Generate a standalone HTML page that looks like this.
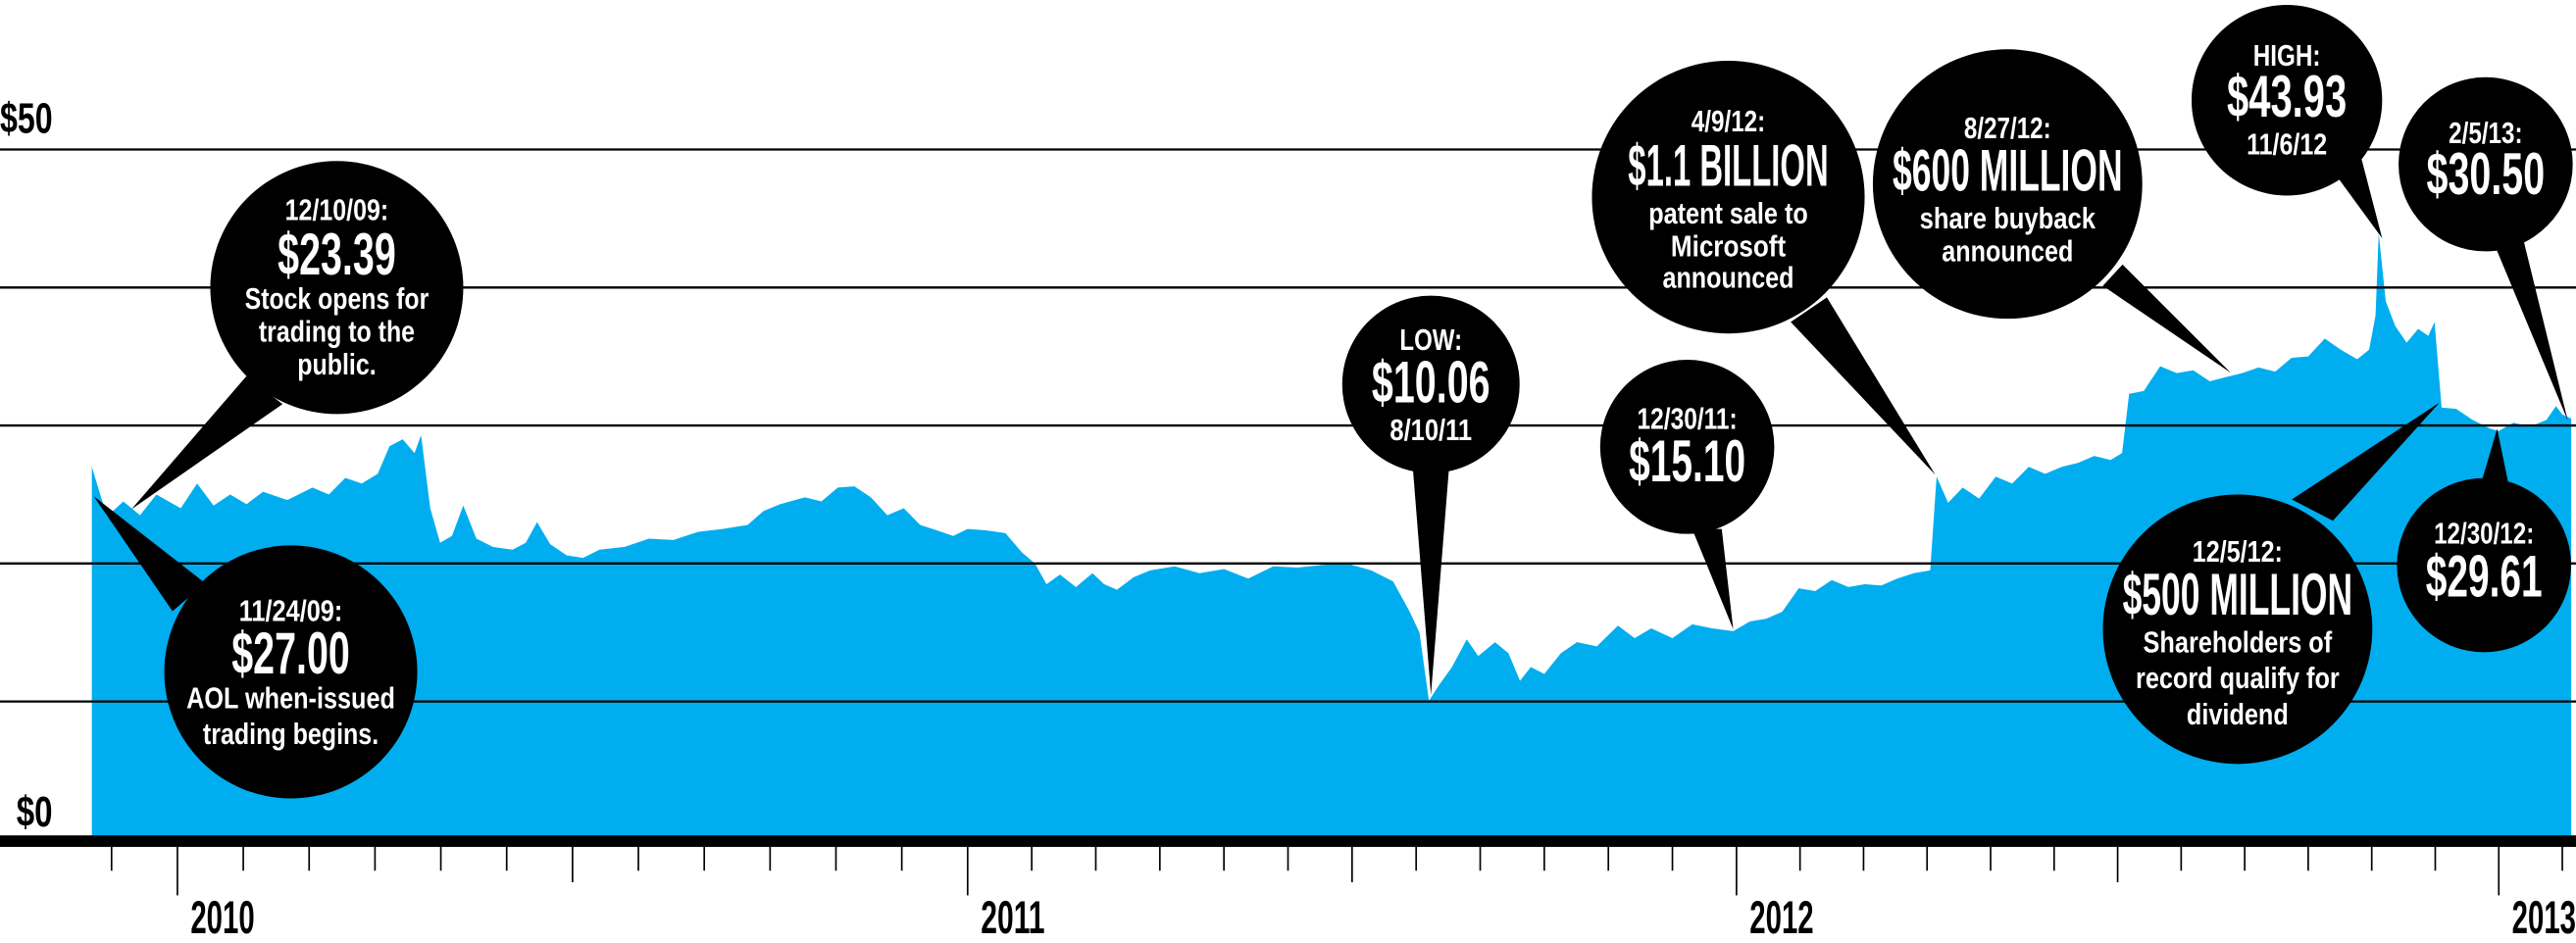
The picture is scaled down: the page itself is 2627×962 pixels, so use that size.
<!DOCTYPE html>
<html><head><meta charset="utf-8"><style>
html,body{margin:0;padding:0;background:#fff;}
svg{display:block;}
text{font-family:"Liberation Sans Narrow","Liberation Sans",sans-serif;font-weight:bold;}
.w{fill:#fff;}
</style></head><body>
<svg id="chart" xmlns="http://www.w3.org/2000/svg" width="2627" height="962" viewBox="0 0 1568 574" preserveAspectRatio="none">
<g id="grid"></g>
<path id="area" fill="#00aeef"></path>
<g id="gridTop"></g>
<rect x="0" y="508.5" width="1568" height="7" fill="#000"/>
<g id="ticks"></g>
<text x="0" y="81" font-size="26" textLength="32" lengthAdjust="spacingAndGlyphs" font-weight="normal">$50</text>
<text x="10" y="503" font-size="26" textLength="22" lengthAdjust="spacingAndGlyphs" font-weight="normal">$0</text>
<g id="bubbles"></g>
</svg>
<script>
// months since Jan 2010
const months = [-1.3,-1.07,-0.82,-0.57,-0.32,0.05,0.3,0.55,0.8,1.05,1.3,1.67,2.05,2.3,2.55,2.8,3.04,3.22,3.42,3.6,3.7,3.84,3.99,4.17,4.34,4.54,4.79,5.09,5.29,5.46,5.66,5.91,6.16,6.41,6.79,7.16,7.53,7.91,8.28,8.66,8.9,9.15,9.53,9.78,10.03,10.28,10.53,10.78,11.03,11.28,11.53,11.78,12,12.28,12.59,12.85,13.05,13.23,13.44,13.69,13.95,14.13,14.33,14.59,14.85,15.23,15.62,16,16.38,16.77,17.15,17.54,17.92,18.3,18.64,18.9,19.05,19.2,19.36,19.56,19.79,19.97,20.23,20.44,20.62,20.79,21,21.26,21.51,21.82,22.15,22.41,22.67,23,23.31,23.62,23.95,24.21,24.47,24.72,24.98,25.24,25.5,25.76,26.02,26.28,26.53,26.79,27.05,27.15,27.33,27.56,27.82,28.08,28.34,28.6,28.86,29.12,29.38,29.63,29.89,30.07,30.18,30.41,30.67,30.93,31.19,31.45,31.7,31.96,32.22,32.48,32.74,33,33.26,33.51,33.77,33.96,34.06,34.11,34.22,34.37,34.55,34.73,34.89,34.99,35.1,35.33,35.59,35.85,36,36.23,36.49,36.75,36.9,37,37.14];
const prices = [27.0,23.4,24.5,23.5,25,24,25.8,24.2,25,24.3,25.2,24.6,25.5,25,26.2,25.8,26.5,28.5,29,28,29.3,24,21.5,22,24.2,21.8,21.2,21,21.5,23,21.4,20.6,20.4,21,21.2,21.8,21.7,22.3,22.5,22.8,23.8,24.3,24.8,24.5,25.5,25.6,24.8,23.5,24,22.8,22.4,22,22.5,22.4,22.2,20.8,20,18.5,19.2,18.3,19.3,18.5,18.1,19,19.5,19.8,19.3,19.6,18.9,19.8,19.7,19.9,20,19.5,18.7,16.5,15,10.06,11.2,12.5,14.5,13.3,14.3,13.5,11.5,12.5,12,13.5,14.3,14,15.5,14.6,15.3,14.6,15.6,15.3,15.1,15.8,16,16.5,18.2,18,18.8,18.3,18.5,18.4,18.9,19.3,19.5,26.3,24.4,25.5,24.7,26.3,25.8,27,26.5,27,27.3,27.8,27.5,28,32.3,32.5,34.3,33.8,34,33.2,33.5,33.8,34.2,33.9,34.9,35,36.3,35.5,34.8,35.5,38,43.93,39,37.2,36,37,36.5,37.5,31.3,31.2,30.4,29.8,29.61,30.2,29.9,30.4,31.4,30.8,30.5];
const yearLabels = ["2010","2011","2012","2013"];
const gridValues = [10,20,30,40,50];

const yearPx = [108,589,1057,1521,1985];
function xScale(m){
  let k = Math.floor(m/12);
  if(k<0) k=0; if(k>3) k=3;
  const a=yearPx[k], b=yearPx[k+1];
  return a + (m - k*12)/12*(b-a);
}
function yScale(p){ return 511 - p*8.4; }
const NS="http://www.w3.org/2000/svg";
function mk(tag, attrs, parent){ const e=document.createElementNS(NS,tag); for(const k in attrs) e.setAttribute(k,attrs[k]); parent.appendChild(e); return e; }

// area
let d = "M"+xScale(months[0]).toFixed(1)+","+yScale(0);
months.forEach((m,i)=>{ d+=" L"+xScale(m).toFixed(1)+","+yScale(prices[i]).toFixed(1); });
d += " L"+xScale(months[months.length-1]).toFixed(1)+","+yScale(0)+" Z";
document.getElementById('area').setAttribute('d', d);

// gridlines over area
const gt=document.getElementById('gridTop');
gridValues.forEach(v=>{
  const l=mk('line',{x1:0,x2:1568,y1:yScale(v),y2:yScale(v),stroke:'#000','stroke-width':1.4},gt);
  
  
});

// ticks
const tg=document.getElementById('ticks');
for(let m=-1;m<=37;m++){
  let len = 530;
  if(m%12===0) len=545; else if(((m%12)+12)%12===6) len=537;
  const t=mk('line',{x1:xScale(m),x2:xScale(m),y1:515,y2:len,stroke:'#000','stroke-width':1},tg);
  
  
}
yearLabels.forEach((y,i)=>{
  const t=mk('text',{x:xScale(i*12)+8,y:568,'font-size':28,textLength:39,lengthAdjust:'spacingAndGlyphs','font-weight':'normal'},tg);
  t.textContent=y;
  
  
});

// bubbles
const bubbles = [
 {n:'dec-2009-open',cx:205,cy:175,r:77,tail:[[150,229],[172,246],[80,310]],lines:[['12/10/09:',134,18,63],['$23.39',167,36,72],['Stock opens for',188,18,112],['trading to the',208,18,95],['public.',228,18,48]]},
 {n:'nov-2009-when-issued',cx:177,cy:409,r:77,tail:[[105,372],[125,355],[57,302]],lines:[['11/24/09:',378,18,63],['$27.00',410,36,72],['AOL when-issued',431,18,127],['trading begins.',453,18,107]]},
 {n:'low-aug-2011',cx:871,cy:234,r:54,tail:[[860,285],[882,285],[871,423]],lines:[['LOW:',213,18,38],['$10.06',245,36,72],['8/10/11',268,18,50]]},
 {n:'dec-2011',cx:1027,cy:272,r:53,tail:[[1030,322],[1048,322],[1055,383]],lines:[['12/30/11:',261,18,61],['$15.10',293,36,71]]},
 {n:'apr-2012-patent-sale',cx:1052,cy:120,r:83,tail:[[1090,196],[1112,181],[1178,289]],lines:[['4/9/12:',80,18,45],['$1.1 BILLION',113,36,122],['patent sale to',136,18,97],['Microsoft',156,18,70],['announced',175,18,80]]},
 {n:'aug-2012-buyback',cx:1222,cy:112,r:82,tail:[[1280,174],[1292,161],[1358,227]],lines:[['8/27/12:',84,18,53],['$600 MILLION',116,36,140],['share buyback',139,18,107],['announced',159,18,80]]},
 {n:'high-nov-2012',cx:1392,cy:61,r:58,tail:[[1420,104],[1437,95],[1450,145]],lines:[['HIGH:',40,18,41],['$43.93',71,36,73],['11/6/12',94,18,49]]},
 {n:'feb-2013',cx:1513,cy:100,r:53,tail:[[1518,148],[1536,146],[1563,256]],lines:[['2/5/13:',87,18,45],['$30.50',118,36,72]]},
 {n:'dec-2012-dividend',cx:1362,cy:383,r:82,tail:[[1395,304],[1420,317],[1485,245]],lines:[['12/5/12:',342,18,55],['$500 MILLION',374,36,140],['Shareholders of',397,18,115],['record qualify for',419,18,124],['dividend',441,18,62]]},
 {n:'dec-2012',cx:1512,cy:344,r:53,tail:[[1510,295],[1527,295],[1520,261]],lines:[['12/30/12:',331,18,61],['$29.61',363,36,71]]}
];
const bg=document.getElementById('bubbles');
bubbles.forEach(b=>{
  const g=mk('g',{},bg);
  
  
  const p=mk('polygon',{points:b.tail.map(q=>q.join(',')).join(' '),fill:'#000'},g);
  
  
  const c=mk('ellipse',{cx:b.cx,cy:b.cy,rx:b.r,ry:b.r,fill:'#000'},g);
  
  
  b.lines.forEach(L=>{
    const t=mk('text',{x:b.cx,y:L[1],'font-size':L[2],'text-anchor':'middle',class:'w',textLength:L[3],lengthAdjust:'spacingAndGlyphs'},g);
    t.textContent=L[0];
    
    
  });
});
</script>
</body></html>
